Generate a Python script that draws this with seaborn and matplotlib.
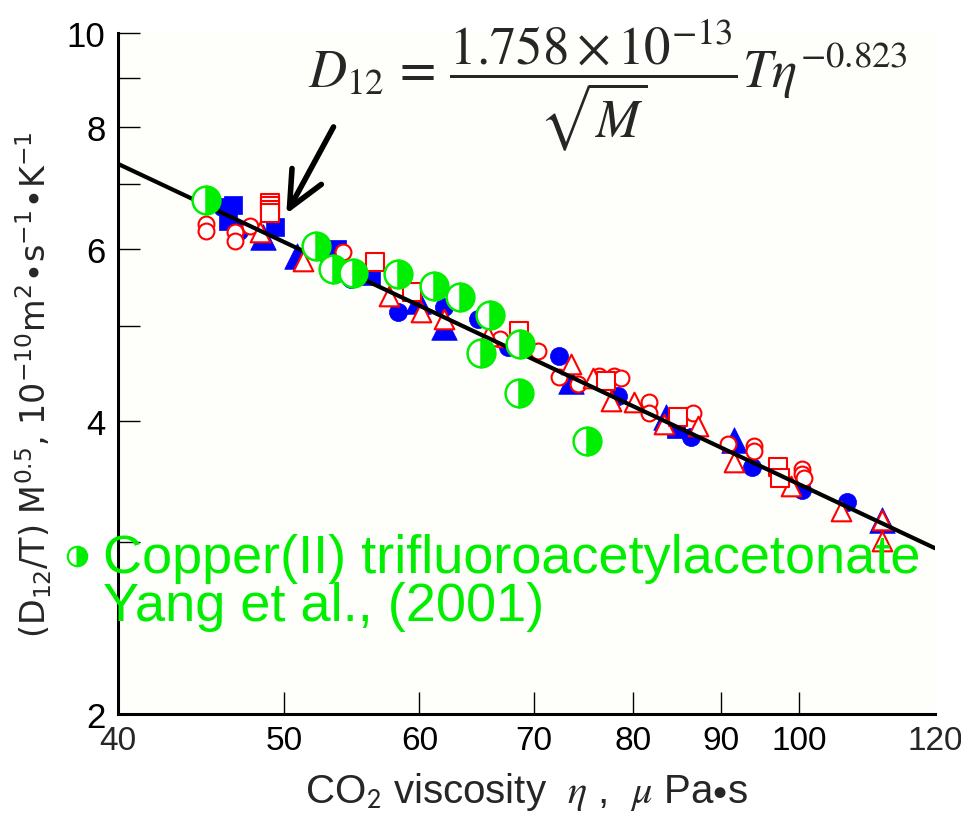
import matplotlib
matplotlib.use("Agg")
import matplotlib.pyplot as plt
import seaborn as sns
from matplotlib.ticker import FixedLocator, FixedFormatter

                                     ## Data ##
# filled blue symbols
blue_circle_x = [44.9, 46.0, 47.1, 54.7, 58.3, 62.0, 64.9, 67.6, 72.4, 78.4, 86.5, 93.8, 100.3, 106.6]
blue_circle_y = [6.82, 6.63, 6.27, 5.59, 5.17, 5.23, 5.09, 4.76, 4.66, 4.24, 3.85, 3.59, 3.40, 3.30]
blue_tri_x = [48.6, 50.9, 59.9, 62.0, 73.6, 83.6, 91.6, 111.7]
blue_tri_y = [6.18, 5.91, 5.31, 4.99, 4.39, 4.04, 3.82, 3.16]
blue_sq_x = [46.7, 46.4, 49.4, 53.7, 56.2, 84.7]
blue_sq_y = [6.66, 6.42, 6.33, 6.00, 5.63, 3.92]

# open red symbols
red_circle_x = [45.0, 45.0, 46.8, 46.8, 47.8, 54.1, 66.9, 70.4, 72.4, 74.3, 76.4, 77.9, 78.7,
                81.7, 81.7, 86.7, 90.9, 94.1, 94.1, 100.3, 100.3, 100.6]
red_circle_y = [6.37, 6.27, 6.25, 6.12, 6.34, 5.96, 4.85, 4.72, 4.44, 4.36, 4.45, 4.45, 4.42,
                4.18, 4.07, 4.07, 3.79, 3.77, 3.72, 3.57, 3.53, 3.49]
red_tri_x = [48.4, 51.3, 57.6, 60.1, 62.0, 65.8, 73.6, 75.8, 77.6, 80.1, 83.4, 87.3, 91.6,
             98.9, 105.8, 111.7, 111.7]
red_tri_y = [6.25, 5.84, 5.37, 5.17, 5.09, 4.89, 4.57, 4.42, 4.19, 4.18, 3.97, 3.95, 3.63,
             3.43, 3.23, 3.16, 3.01]
red_sq_x = [49.1, 49.1, 49.1, 49.1, 56.5, 59.4, 68.6, 77.1, 85.0, 97.2, 97.4]
red_sq_y = [6.69, 6.65, 6.58, 6.54, 5.82, 5.42, 4.95, 4.39, 4.04, 3.59, 3.49]

# Copper(II) trifluoroacetylacetonate, Yang et al. (2001)
green_x = [45.0, 52.2, 53.4, 54.9, 58.3, 61.2, 63.4, 66.0, 65.2, 68.7, 68.6, 75.2]
green_y = [6.74, 6.05, 5.73, 5.67, 5.66, 5.50, 5.36, 5.14, 4.70, 4.80, 4.27, 3.81]

# correlation line end points
fit_x = [40, 120]
fit_y = [7.34, 2.96]

x_major = [50, 60, 70, 80, 90, 100]
x_edge = [40, 120]
y_major = [2, 4, 6, 8, 10]
y_minor = [3, 5, 7, 9]

BLUE = "#0000ff"
RED = "#ff0000"
GREEN = "#00ee00"

                                     ## Figure ##
sns.set_style("ticks")
plt.rcParams["font.family"] = ["Liberation Sans", "DejaVu Sans"]

fig = plt.figure(figsize=(9.61, 8.2), dpi=100)
ax = fig.add_axes([0.1228, 0.128, 0.850, 0.8305])
ax.set_facecolor("#fefefa")
ax.set_xscale("log")
ax.set_yscale("log")

# blue filled symbols
sns.scatterplot(x=blue_circle_x, y=blue_circle_y, marker="o", s=170, color=BLUE,
                edgecolor=BLUE, linewidth=0.5, ax=ax, zorder=3)
sns.scatterplot(x=blue_tri_x, y=blue_tri_y, marker="^", s=340, color=BLUE,
                edgecolor=BLUE, linewidth=0.5, ax=ax, zorder=3)
sns.scatterplot(x=blue_sq_x, y=blue_sq_y, marker="s", s=180, color=BLUE,
                edgecolor=BLUE, linewidth=0.5, ax=ax, zorder=3)

# red open symbols
sns.scatterplot(x=red_circle_x, y=red_circle_y, marker="o", s=130, facecolor="white",
                edgecolor=RED, linewidth=1.5, ax=ax, zorder=4)
sns.scatterplot(x=red_tri_x, y=red_tri_y, marker="^", s=200, facecolor="white",
                edgecolor=RED, linewidth=1.5, ax=ax, zorder=4)
sns.scatterplot(x=red_sq_x, y=red_sq_y, marker="s", s=160, facecolor="white",
                edgecolor=RED, linewidth=1.5, ax=ax, zorder=4)

# correlation line
sns.lineplot(x=fit_x, y=fit_y, color="black", linewidth=3, ax=ax, zorder=5)

# half filled green circles
ax.plot(green_x, green_y, linestyle="none", marker="o", ms=20, fillstyle="right",
        markerfacecolor=GREEN, markerfacecoloralt="white", markeredgecolor=GREEN,
        mew=1.8, zorder=6)

ax.set_xlim(40, 120)
ax.set_ylim(2, 10)

# ticks
ax.xaxis.set_major_locator(FixedLocator(x_major))
ax.xaxis.set_major_formatter(FixedFormatter([str(v) for v in x_major]))
ax.xaxis.set_minor_locator(FixedLocator(x_edge))
ax.xaxis.set_minor_formatter(FixedFormatter([str(v) for v in x_edge]))
ax.yaxis.set_major_locator(FixedLocator(y_major))
ax.yaxis.set_major_formatter(FixedFormatter([str(v) for v in y_major]))
ax.yaxis.set_minor_locator(FixedLocator(y_minor))
ax.yaxis.set_minor_formatter(FixedFormatter([""] * len(y_minor)))

ax.tick_params(axis="x", which="major", direction="in", length=16, width=1,
               labelsize=24, pad=8, colors="black")
ax.tick_params(axis="x", which="minor", length=0, labelsize=24, pad=8)
ax.tick_params(axis="y", which="both", direction="in", length=16, width=1,
               labelsize=25, pad=9, colors="black")

sns.despine(ax=ax)
for side in ["left", "bottom"]:
    ax.spines[side].set_linewidth(2.2)
    ax.spines[side].set_color("black")

# axis titles
ax.set_xlabel(r"CO$_{\mathsf{2}}$ viscosity  $\eta$ ,  $\mu$ Pa$\bullet$s", fontsize=29,
              math_fontfamily="stix", labelpad=10)
ax.set_ylabel(r"(D$_{12}$/T) M$^{0.5}$, 10$^{-10}$m$^{2}$$\bullet$s$^{-1}$$\bullet$K$^{-1}$",
              fontsize=24, family="DejaVu Sans", math_fontfamily="dejavusans")
ax.yaxis.set_label_coords(-0.078, 0.485)

# correlation formula and arrow
fig.text(308 / 961, 1 - 86 / 820,
         r"$D_{12}\,=\,\dfrac{1.758\times10^{-13}}{\sqrt{M}}T\eta^{-0.823}$",
         math_fontfamily="stix", fontsize=38, ha="left", va="center")
ax.annotate("", xy=(50.16, 6.52), xytext=(53.45, 8.01),
            arrowprops=dict(arrowstyle="->,head_length=1.3,head_width=0.6", lw=4,
                            color="black", shrinkA=0, shrinkB=0, mutation_scale=20),
            zorder=7)

# legend entry
ax.plot([77 / 961], [1 - 557 / 820], transform=fig.transFigure, clip_on=False,
        linestyle="none", marker="o", ms=14, fillstyle="right", markerfacecolor=GREEN,
        markerfacecoloralt="white", markeredgecolor=GREEN, mew=1.5)
fig.text(103 / 961, 1 - 583 / 820, "Copper(II) trifluoroacetylacetonate\nYang et al., (2001)",
         color=GREEN, fontsize=39, ha="left", va="center", linespacing=0.95)

fig.savefig("out.png", dpi=100, facecolor="white")
